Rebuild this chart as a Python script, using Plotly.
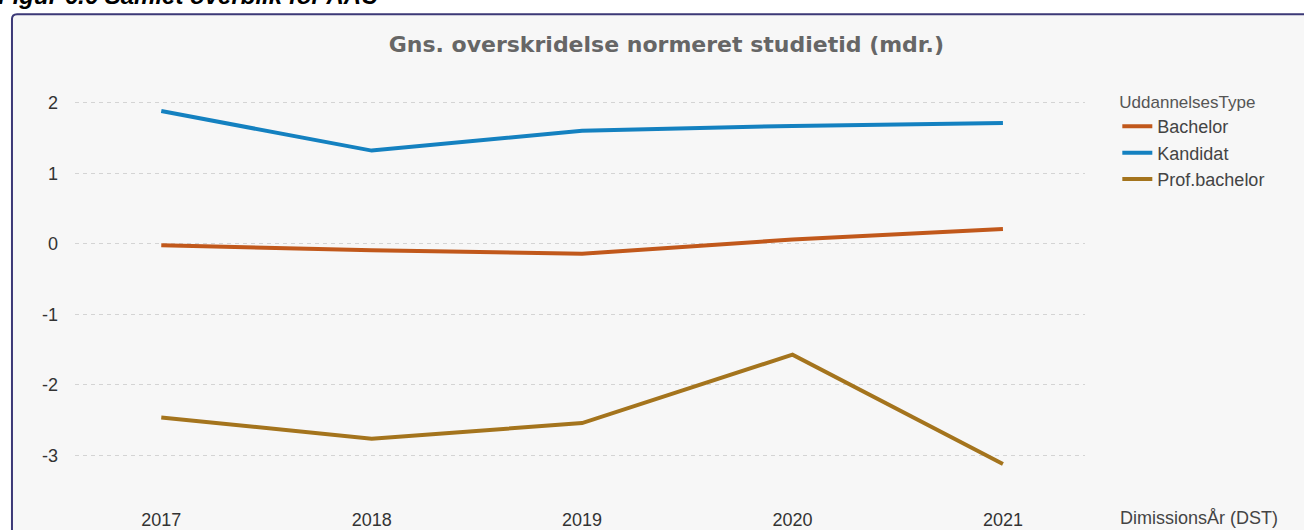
import plotly.graph_objects as go

# Data
years = [2017, 2018, 2019, 2020, 2021]
bachelor = [-0.02, -0.09, -0.14, 0.06, 0.21]
kandidat = [1.88, 1.32, 1.60, 1.67, 1.71]
prof_bachelor = [-2.46, -2.76, -2.54, -1.57, -3.12]
y_ticks = [-3, -2, -1, 0, 1, 2]

series = [
    ("Bachelor", bachelor, "#C1581B"),
    ("Kandidat", kandidat, "#1481C0"),
    ("Prof.bachelor", prof_bachelor, "#A4741D"),
]

fig = go.Figure()

for name, values, color in series:
    fig.add_trace(go.Scatter(
        x=years,
        y=values,
        name=name,
        mode="lines",
        line=dict(color=color, width=4),
    ))

# panel background with dark frame, rounded top-left corner
x0, x1, y0, y1 = -0.0624, 1.3, -0.1, 1.155
rx, ry = 0.005, 0.0118
frame = (f"M {x0},{y0} L {x0},{y1 - ry} Q {x0},{y1} {x0 + rx},{y1} "
         f"L {x1},{y1} L {x1},{y0} Z")
fig.add_shape(
    type="path", xref="paper", yref="paper", path=frame,
    fillcolor="#F7F7F7", line=dict(color="#3C3977", width=2),
    layer="below",
)

fig.update_layout(
    width=1304,
    height=530,
    margin=dict(l=75, r=219, t=80, b=25),
    paper_bgcolor="white",
    plot_bgcolor="rgba(0,0,0,0)",
    font=dict(family="Liberation Sans, Arial, sans-serif", size=18, color="#333333"),
    title=dict(
        text="<b>Gns. overskridelse normeret studietid (mdr.)</b>",
        x=0.511, xanchor="center", xref="container",
        y=0.917, yanchor="middle", yref="container",
        font=dict(family="DejaVu Sans, Verdana, sans-serif", size=22, color="#666666"),
    ),
    legend=dict(
        title=dict(text="UddannelsesType", font=dict(size=17, color="#555555")),
        x=1.032, xanchor="left",
        y=0.986, yanchor="top",
        font=dict(size=18, color="#444444"),
        bgcolor="rgba(0,0,0,0)",
    ),
    showlegend=True,
)

fig.update_xaxes(
    range=[2016.59, 2021.39],
    tickvals=years,
    ticktext=[str(y) for y in years],
    showgrid=False,
    zeroline=False,
    showline=False,
    automargin=False,
    ticklabelstandoff=2,
    tickfont=dict(size=18, color="#333333"),
)

fig.update_yaxes(
    range=[-3.70, 2.32],
    tickvals=y_ticks,
    ticktext=[str(v) for v in y_ticks],
    showgrid=True,
    gridcolor="#D4D4D4",
    griddash="4px,4px",
    gridwidth=1,
    zeroline=False,
    showline=False,
    automargin=False,
    ticklabelstandoff=16,
    tickfont=dict(size=18, color="#333333"),
)

# x axis title at the right end of the tick row
fig.add_annotation(
    text="DimissionsÅr (DST)", xref="paper", yref="paper",
    x=1.033, y=-0.031, xanchor="left", yanchor="middle",
    showarrow=False, font=dict(size=18, color="#444444"),
)

# figure caption, cut off by the top edge in the source
fig.add_annotation(
    text="<b><i>Figur 6.6 Samlet overblik for AAU</i></b>", xref="paper", yref="paper",
    x=-0.078, y=1.162, xanchor="left", yanchor="bottom",
    showarrow=False, font=dict(size=24, color="#000000"),
)

# drop the default page margin so the figure sits at the window's corner
fig.write_html(
    "out.html",
    config={"displayModeBar": False},
    post_script="document.body.style.margin='0';",
)
